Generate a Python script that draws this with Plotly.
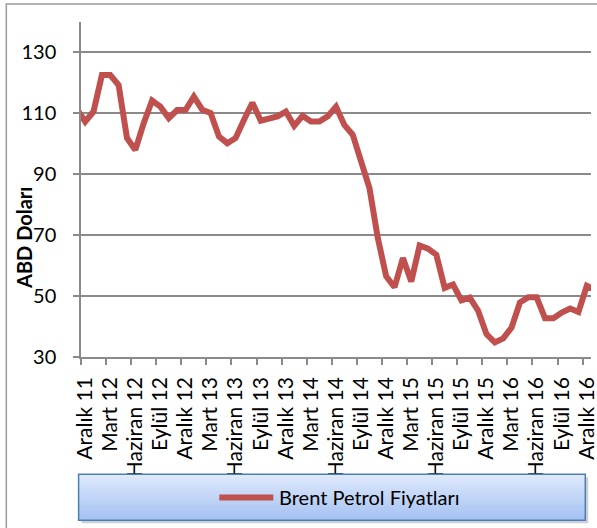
import plotly.graph_objects as go

# ---- data ----
months_tr = ["Ocak", "Şubat", "Mart", "Nisan", "Mayıs", "Haziran",
             "Temmuz", "Ağustos", "Eylül", "Ekim", "Kasım", "Aralık"]

# monthly Brent prices, Kasım 11 ... Ocak 17
brent = [111.5,
         107.3, 110.6, 122.6, 122.6, 119.3, 101.9, 98.0, 106.8, 114.2, 112.2, 108.4, 111.1,
         111.1, 115.5, 111.2, 110.1, 102.4, 100.2, 101.9, 107.9, 113.5, 107.6, 108.1, 109.0,
         110.6, 105.9, 109.2, 107.3, 107.3, 109.0, 112.2, 106.2, 103.0, 94.5, 85.5, 69.1,
         56.5, 52.9, 62.5, 54.8, 66.6, 65.6, 63.6, 52.7, 53.8, 48.6, 49.5, 45.2,
         37.5, 34.8, 36.1, 39.7, 47.9, 49.6, 49.6, 42.7, 42.7, 44.6, 45.9, 44.8,
         53.4, 52.0]
start_month, start_year = 11, 2011  # Kasım 2011

tick_labels = ["Aralık 11", "Mart 12", "Haziran 12", "Eylül 12", "Aralık 12",
               "Mart 13", "Haziran 13", "Eylül 13", "Aralık 13", "Mart 14",
               "Haziran 14", "Eylül 14", "Aralık 14", "Mart 15", "Haziran 15",
               "Eylül 15", "Aralık 15", "Mart 16", "Haziran 16", "Eylül 16",
               "Aralık 16"]
y_ticks = [30, 50, 70, 90, 110, 130]

series_name = "Brent Petrol Fiyatları"
y_title = "ABD Doları"

# ---- build ----
labels = []
for i in range(len(brent)):
    m = (start_month - 1 + i) % 12
    y = start_year + (start_month - 1 + i) // 12
    labels.append(f"{months_tr[m]} {str(y)[2:]}")
x_idx = list(range(-1, len(brent) - 1))  # Aralık 11 -> 0
tick_vals = list(range(0, 61, 3))
boundary_ticks = [v - 0.5 for v in tick_vals]

W, H = 597, 528
L, R, T, B = 80.7, 6.3, 22, 170.5
PW, PH = W - L - R, H - T - B
FONT = "Lato"
FS = 20
XFS = 21
GRAY = "#8a8a8a"


def px(x):
    return (x - L) / PW


def py(y):
    return (H - B - y) / PH


fig = go.Figure()
fig.add_trace(go.Scatter(
    x=x_idx, y=brent, mode="lines", name=series_name,
    text=labels, hovertemplate="%{text}: %{y}<extra></extra>",
    line=dict(color="#C0504D", width=6, shape="linear"),
    showlegend=False,
))

shapes = []
# outer chart frame
shapes.append(dict(type="rect", xref="paper", yref="paper",
                   x0=px(6), x1=px(620), y0=py(4), y1=py(560),
                   line=dict(color="#9a9a9a", width=1.5), fillcolor="rgba(0,0,0,0)",
                   layer="below"))
# legend box: shadow + gradient + border
lx0, lx1, ly0, ly1 = 78.3, 585, 475, 521
shapes.append(dict(type="rect", xref="paper", yref="paper",
                   x0=px(lx0 + 3), x1=px(lx1 + 3), y0=py(ly0 + 3), y1=py(ly1 + 3),
                   line=dict(width=0), fillcolor="rgba(120,120,120,0.35)"))
n = 24
c0 = (222, 233, 252)
c1 = (165, 194, 242)
for i in range(n):
    t = i / (n - 1)
    c = tuple(int(round(c0[k] + (c1[k] - c0[k]) * t)) for k in range(3))
    ya = ly0 + (ly1 - ly0) * i / n
    yb = ly0 + (ly1 - ly0) * (i + 1) / n
    shapes.append(dict(type="rect", xref="paper", yref="paper",
                       x0=px(lx0), x1=px(lx1), y0=py(ya), y1=py(yb + 0.5),
                       line=dict(width=0), fillcolor=f"rgb{c}"))
shapes.append(dict(type="rect", xref="paper", yref="paper",
                   x0=px(lx0), x1=px(lx1), y0=py(ly0), y1=py(ly1),
                   line=dict(color="#4A7EBB", width=1.5), fillcolor="rgba(0,0,0,0)"))
# legend key line
shapes.append(dict(type="line", xref="paper", yref="paper",
                   x0=px(219), x1=px(273), y0=py(498.3), y1=py(498.3),
                   line=dict(color="#C0504D", width=6)))

annotations = [
    dict(text=series_name, xref="paper", yref="paper", x=px(277), y=py(498),
         xanchor="left", yanchor="middle", showarrow=False,
         font=dict(family=FONT, size=FS, color="#000000")),
    dict(text=f"<b>{y_title}</b>", xref="paper", yref="paper", x=px(23), y=py(238),
         xanchor="center", yanchor="middle", textangle=-90, showarrow=False,
         font=dict(family=FONT, size=FS, color="#000000")),
]

fig.update_layout(
    width=W, height=H,
    margin=dict(l=L, r=R, t=T, b=B, pad=0),
    paper_bgcolor="white", plot_bgcolor="white",
    font=dict(family=FONT, size=FS, color="#000000"),
    showlegend=False,
    shapes=shapes, annotations=annotations,
    xaxis=dict(
        range=[-0.5, 60.5], automargin=False,
        tickmode="array", tickvals=tick_vals, ticktext=tick_labels,
        tickangle=-90, ticks="", ticklabelstandoff=10,
        ticklabeloverflow="allow",
        tickfont=dict(family=FONT, size=XFS, color="#000000"),
        showline=True, linecolor=GRAY, linewidth=1.5,
        showgrid=False, zeroline=False,
        minor=dict(tickmode="array", tickvals=boundary_ticks, ticks="outside",
                   ticklen=6, tickwidth=1.5, tickcolor=GRAY, showgrid=False),
    ),
    yaxis=dict(
        range=[30, 140], automargin=False,
        tickmode="array", tickvals=y_ticks,
        ticks="outside", ticklen=6, tickwidth=1.5, tickcolor=GRAY,
        ticklabelstandoff=13,
        tickfont=dict(family=FONT, size=FS, color="#000000"),
        showline=True, linecolor=GRAY, linewidth=1.5,
        showgrid=True, gridcolor=GRAY, gridwidth=1.5, zeroline=False,
    ),
)

fig.write_html("out.html",
               config={"displayModeBar": False},
               post_script="document.body.style.margin='0px';"
                           "document.body.style.overflow='hidden';")
